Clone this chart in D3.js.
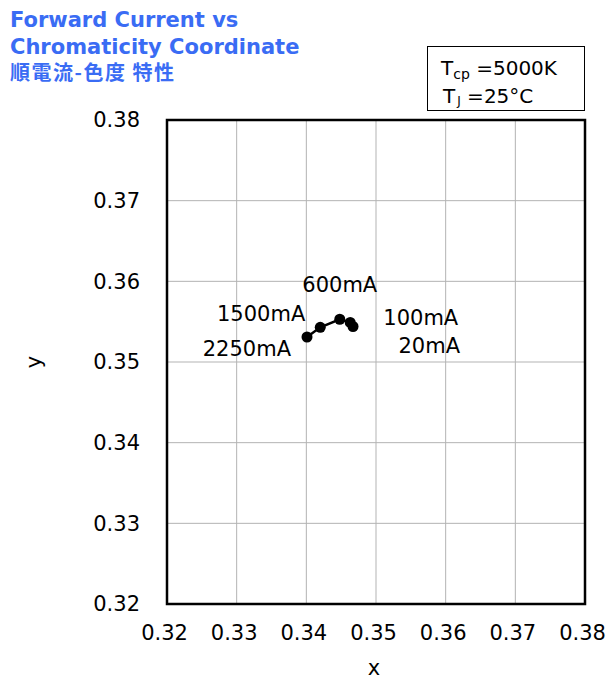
<!DOCTYPE html>
<html>
<head>
<meta charset="utf-8">
<script src="https://cdn.jsdelivr.net/npm/d3@7"></script>
<style>
  body { margin: 0; background: #fff; }
  svg { display: block; font-family: "DejaVu Sans", Verdana, sans-serif; }
</style>
</head>
<body>
<svg id="chart" width="608" height="680"></svg>
<script>
// data
const currents = ['20mA', '100mA', '600mA', '1500mA', '2250mA'];
const cx = [0.3467, 0.3463, 0.3448, 0.3420, 0.3401];
const cy = [0.3544, 0.3549, 0.3553, 0.3543, 0.3531];
const xTicks = [0.32, 0.33, 0.34, 0.35, 0.36, 0.37, 0.38];
const yTicks = [0.32, 0.33, 0.34, 0.35, 0.36, 0.37, 0.38];
const titleLines = ['Forward Current vs', 'Chromaticity Coordinate', '順電流-色度 特性'];

// label placement relative to point (dx, dy, anchor)
const labelPos = {
  '20mA':   { dx: 107, dy: 26, anchor: 'end' },
  '100mA':  { dx: 108, dy: 3,  anchor: 'end' },
  '600mA':  { dx: 0,   dy: -27, anchor: 'middle' },
  '1500mA': { dx: -15, dy: -6, anchor: 'end' },
  '2250mA': { dx: -16, dy: 19, anchor: 'end' }
};

const svg = d3.select('#chart');
const margin = { left: 167, right: 23, top: 120, bottom: 76 };
const W = 608, H = 680;

const x = d3.scaleLinear().domain([0.32, 0.38]).range([margin.left, W - margin.right]);
const y = d3.scaleLinear().domain([0.32, 0.38]).range([H - margin.bottom, margin.top]);

// grid
const grid = svg.append('g').attr('class', 'grid');
grid.selectAll('line.gx')
  .data(xTicks.slice(1, -1))
  .join('line')
  .attr('x1', d => x(d)).attr('x2', d => x(d))
  .attr('y1', y(0.32)).attr('y2', y(0.38))
  .attr('stroke', '#b3b3b3').attr('stroke-width', 1);
grid.selectAll('line.gy')
  .data(yTicks.slice(1, -1))
  .join('line')
  .attr('x1', x(0.32)).attr('x2', x(0.38))
  .attr('y1', d => y(d)).attr('y2', d => y(d))
  .attr('stroke', '#b3b3b3').attr('stroke-width', 1);

// axes (labels only, frame drawn separately)
const xAxis = svg.append('g')
  .attr('transform', `translate(0,${y(0.32)})`)
  .call(d3.axisBottom(x).tickValues(xTicks).tickFormat(d3.format('.2f')).tickSize(0).tickPadding(21));
const yAxis = svg.append('g')
  .attr('transform', `translate(${x(0.32)},0)`)
  .call(d3.axisLeft(y).tickValues(yTicks).tickFormat(d3.format('.2f')).tickSize(0).tickPadding(27));
[xAxis, yAxis].forEach(a => {
  a.select('.domain').remove();
  a.selectAll('text')
    .attr('font-family', '"DejaVu Sans", Verdana, sans-serif')
    .attr('font-size', 21)
    .attr('fill', '#000');
});
xAxis.selectAll('text').attr('dx', -3);

// frame
svg.append('rect')
  .attr('x', x(0.32)).attr('y', y(0.38))
  .attr('width', x(0.38) - x(0.32)).attr('height', y(0.32) - y(0.38))
  .attr('fill', 'none').attr('stroke', '#000').attr('stroke-width', 2.5);

// axis titles
svg.append('text')
  .attr('x', (x(0.32) + x(0.38)) / 2 - 2).attr('y', 675)
  .attr('text-anchor', 'middle').attr('font-size', 21).text('x');
svg.append('text')
  .attr('transform', `translate(41,${(y(0.32) + y(0.38)) / 2}) rotate(-90)`)
  .attr('text-anchor', 'middle').attr('font-size', 21).text('y');

// series
const pts = currents.map((c, i) => ({ c, x: cx[i], y: cy[i] }));
svg.append('path')
  .datum(pts)
  .attr('d', d3.line().x(d => x(d.x)).y(d => y(d.y)))
  .attr('fill', 'none').attr('stroke', '#000').attr('stroke-width', 2.5);
svg.selectAll('circle.pt')
  .data(pts)
  .join('circle')
  .attr('class', 'pt')
  .attr('cx', d => x(d.x)).attr('cy', d => y(d.y))
  .attr('r', 5.5).attr('fill', '#000');

svg.selectAll('text.lbl')
  .data(pts)
  .join('text')
  .attr('class', 'lbl')
  .attr('x', d => x(d.x) + labelPos[d.c].dx)
  .attr('y', d => y(d.y) + labelPos[d.c].dy)
  .attr('text-anchor', d => labelPos[d.c].anchor)
  .attr('font-size', 21)
  .text(d => d.c);

// title
svg.selectAll('text.title')
  .data(titleLines)
  .join('text')
  .attr('class', 'title')
  .attr('x', 10)
  .attr('y', (d, i) => 27 + i * 26.5)
  .attr('font-size', (d, i) => i < 2 ? 21 : 20)
  .attr('letter-spacing', (d, i) => i < 2 ? 0 : 1.5)
  .attr('font-weight', 'bold')
  .attr('font-family', (d, i) => i < 2 ? '"DejaVu Sans", Verdana, sans-serif' : '"Noto Sans CJK JP", sans-serif')
  .attr('fill', '#3a6cf4')
  .text(d => d);

// condition box
const box = svg.append('g');
box.append('rect')
  .attr('x', 427.5).attr('y', 46.5).attr('width', 157).attr('height', 64)
  .attr('fill', '#fff').attr('stroke', '#000').attr('stroke-width', 1);
const t1 = box.append('text').attr('x', 441).attr('y', 75).attr('font-size', 20);
t1.append('tspan').text('T');
t1.append('tspan').attr('font-size', 14).attr('dy', 4).text('cp');
t1.append('tspan').attr('dy', -4).text(' =5000K');
const t2 = box.append('text').attr('x', 443).attr('y', 103).attr('font-size', 20);
t2.append('tspan').text('T');
t2.append('tspan').attr('font-size', 12).attr('dy', 2).attr('dx', 2).text('J');
t2.append('tspan').attr('dy', -2).text(' =25°C');
</script>
</body>
</html>
